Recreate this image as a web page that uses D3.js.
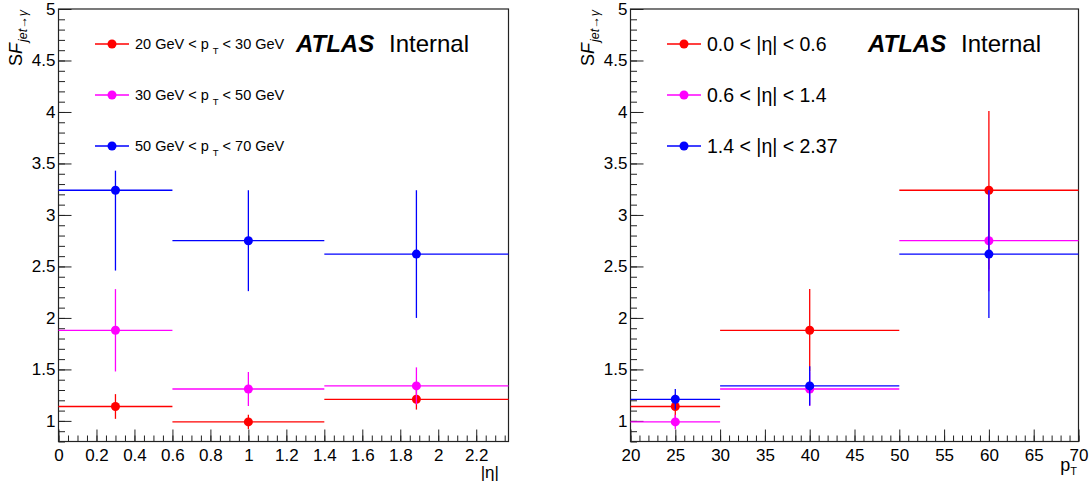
<!DOCTYPE html>
<html>
<head>
<meta charset="utf-8">
<script src="https://cdn.jsdelivr.net/npm/d3@7"></script>
<style>
  body { margin: 0; background: #fff; }
  svg text { font-family: "Liberation Sans", Arial, Helvetica, sans-serif; fill: #000; }
</style>
</head>
<body>
<svg id="chart" width="1089" height="485"></svg>
<script>
// bins
var etaEdges = [0, 0.6, 1.4, 2.37];
var etaCenters = [0.3, 1.0, 1.885];
var ptEdges = [20, 30, 50, 70];
var ptCenters = [25, 40, 60];

// legend labels
var ptLow = [20, 30, 50];
var ptHigh = [30, 50, 70];
var etaLabels = ["0.0 < |η| < 0.6", "0.6 < |η| < 1.4", "1.4 < |η| < 2.37"];

var colors = ["#ff0000", "#ff00ff", "#0000ff"];

// SF vs |eta|, one series per pT bin
var sfEta = [
  [1.14, 0.99, 1.21],
  [1.88, 1.31, 1.34],
  [3.24, 2.75, 2.62]
];
var sfEtaErrLo = [
  [0.12, 0.07, 0.10],
  [0.40, 0.165, 0.18],
  [0.78, 0.49, 0.62]
];
var sfEtaErrHi = [
  [0.12, 0.07, 0.10],
  [0.40, 0.165, 0.18],
  [0.19, 0.49, 0.62]
];

// SF vs pT, one series per |eta| bin
var sfPt = [
  [1.14, 1.88, 3.24],
  [0.99, 1.31, 2.75],
  [1.21, 1.34, 2.62]
];
var sfPtErr = [
  [0.12, 0.40, 0.77],
  [0.07, 0.165, 0.49],
  [0.10, 0.19, 0.62]
];

var yTicks = [1, 1.5, 2, 2.5, 3, 3.5, 4, 4.5, 5];

var svg = d3.select("#chart");

function drawPanel(p) {
  var g = svg.append("g");
  var x = d3.scaleLinear().domain(p.xDomain).range([p.left, p.right]);
  var y = d3.scaleLinear().domain([0.8, 5]).range([441.5, 9]);

  // minor ticks
  g.append("g")
    .attr("transform", "translate(0,441.5)")
    .call(d3.axisBottom(x).tickValues(d3.range(p.xDomain[0], p.xDomain[1] + 1e-9, p.xMinor)).tickSize(-6).tickFormat(""))
    .call(function(a) { a.select(".domain").remove(); });
  g.append("g")
    .attr("transform", "translate(" + p.left + ",0)")
    .call(d3.axisLeft(y).tickValues(d3.range(0.8, 5.0001, 0.1)).tickSize(-6.5).tickFormat(""))
    .call(function(a) { a.select(".domain").remove(); });

  // major ticks
  var xa = g.append("g")
    .attr("transform", "translate(0,441.5)")
    .call(d3.axisBottom(x).tickValues(p.xTicks).tickSize(-12).tickPadding(7).tickFormat(d3.format("")));
  xa.select(".domain").remove();
  xa.selectAll("text").style("font-size", "17px").style("font-family", "Liberation Sans, Arial, sans-serif");

  var ya = g.append("g")
    .attr("transform", "translate(" + p.left + ",0)")
    .call(d3.axisLeft(y).tickValues(yTicks).tickSize(-13).tickPadding(3).tickFormat(d3.format("")));
  ya.select(".domain").remove();
  ya.selectAll("text").style("font-size", "17px").style("font-family", "Liberation Sans, Arial, sans-serif");

  g.selectAll(".tick line").attr("stroke", "#222").attr("stroke-width", 1);

  // frame
  g.append("rect")
    .attr("x", p.left).attr("y", 9)
    .attr("width", p.right - p.left).attr("height", 441.5 - 9)
    .attr("fill", "none").attr("stroke", "#222").attr("stroke-width", 1.2);

  // data
  p.values.forEach(function(vals, s) {
    var sg = g.append("g");
    vals.forEach(function(v, i) {
      var cx = x(p.centers[i]), cy = y(v);
      sg.append("line")
        .attr("x1", x(p.edges[i])).attr("x2", x(p.edges[i + 1]))
        .attr("y1", cy).attr("y2", cy)
        .attr("stroke", colors[s]).attr("stroke-width", 1.3);
      sg.append("line")
        .attr("x1", cx).attr("x2", cx)
        .attr("y1", y(v + p.errHi[s][i])).attr("y2", y(v - p.errLo[s][i]))
        .attr("stroke", colors[s]).attr("stroke-width", 1.3);
      sg.append("circle")
        .attr("cx", cx).attr("cy", cy).attr("r", 4.5)
        .attr("fill", colors[s]);
    });
  });

  // y title
  var yt = g.append("text")
    .attr("transform", "translate(" + p.yTitleX + ",10) rotate(-90)")
    .attr("text-anchor", "end")
    .style("font-size", "18px");
  yt.append("tspan").text("S");
  yt.append("tspan").style("font-style", "italic").text("F");
  yt.append("tspan").attr("dy", 5).attr("dx", 1).style("font-size", "12.5px").style("font-style", "italic").text("jet→γ");

  // ATLAS Internal
  g.append("text")
    .attr("x", p.atlasX).attr("y", 52)
    .style("font-size", "24px").style("font-weight", "bold").style("font-style", "italic")
    .text("ATLAS");
  g.append("text")
    .attr("x", p.atlasX + 93).attr("y", 52)
    .style("font-size", "24px")
    .text("Internal");

  // legend
  var rowY = [44, 95, 146];
  p.values.forEach(function(vals, s) {
    var lx = p.legendX;
    g.append("line")
      .attr("x1", lx).attr("x2", lx + 34)
      .attr("y1", rowY[s]).attr("y2", rowY[s])
      .attr("stroke", colors[s]).attr("stroke-width", 1.3);
    g.append("circle")
      .attr("cx", lx + 17).attr("cy", rowY[s]).attr("r", 4.5)
      .attr("fill", colors[s]);
    p.legendText(g.append("text").attr("x", lx + 40).attr("y", rowY[s] + 5), s);
  });

  return g;
}

drawPanel({
  left: 58.5, right: 508.5,
  xDomain: [0, 2.37], xTicks: d3.range(0, 2.3, 0.2).map(function(d) { return +d.toFixed(1); }), xMinor: 0.05,
  edges: etaEdges, centers: etaCenters,
  values: sfEta, errLo: sfEtaErrLo, errHi: sfEtaErrHi,
  yTitleX: 22, atlasX: 296, legendX: 95,
  legendText: function(t, s) {
    t.style("font-size", "14.5px");
    t.append("tspan").text(ptLow[s] + " GeV < p");
    t.append("tspan").attr("dx", 4).attr("dy", 5).style("font-size", "9.5px").text("T");
    t.append("tspan").attr("dy", -5).text(" < " + ptHigh[s] + " GeV");
  }
});

drawPanel({
  left: 630.5, right: 1078.5,
  xDomain: [20, 70], xTicks: d3.range(20, 71, 5), xMinor: 1,
  edges: ptEdges, centers: ptCenters,
  values: sfPt, errLo: sfPtErr, errHi: sfPtErr,
  yTitleX: 594, atlasX: 868, legendX: 667,
  legendText: function(t, s) {
    t.style("font-size", "19.5px")
      .attr("y", [44, 95, 146][s] + 7)
      .text(etaLabels[s]);
  }
});

// axis titles
svg.append("text").attr("x", 499).attr("y", 478).attr("text-anchor", "end")
  .style("font-size", "17px").text("|η|");
var pt = svg.append("text").attr("x", 1077).attr("y", 471).attr("text-anchor", "end")
  .style("font-size", "18px");
pt.append("tspan").text("p");
pt.append("tspan").attr("dy", 4).style("font-size", "11px").text("T");
</script>
</body>
</html>
